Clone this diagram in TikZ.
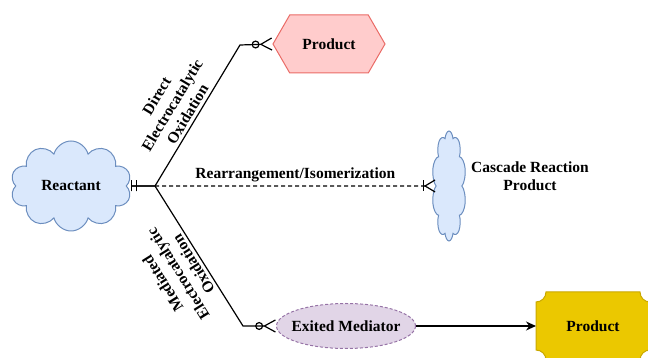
\documentclass[tikz,border=0pt]{standalone}
\usepackage{fontspec}
\setmainfont{Liberation Serif}
\usetikzlibrary{arrows.meta,shapes.symbols,shapes.geometric,backgrounds}

\definecolor{cloudfill}{HTML}{DAE8FC}
\definecolor{cloudline}{HTML}{6C8EBF}
\definecolor{hexfill}{HTML}{FFCCCC}
\definecolor{hexline}{HTML}{EA6B66}
\definecolor{medfill}{HTML}{E1D5E7}
\definecolor{medline}{HTML}{9673A6}
\definecolor{platefill}{HTML}{EBC800}
\definecolor{plateline}{HTML}{C9A800}

\tikzset{
  every node/.style={font=\bfseries\fontsize{15.5}{18}\selectfont},
  blob/.style={cloud, cloud ignores aspect, cloud puffs=10, draw=cloudline, fill=cloudfill, line width=1pt},
  erzeromany/.style={line width=1.2pt, {Bar[width=11pt,sep=4pt]Bar[width=11pt,sep=4pt]}-{Circle[open,length=8pt,width=8pt,sep=0pt]Straight Barb[reversed,length=11pt,width=12pt]}},
  eronemany/.style={line width=1.2pt, dash pattern=on 4pt off 3pt, -{Bar[width=11pt,sep=0pt]Straight Barb[reversed,length=10pt,width=12pt]}},
}

\begin{document}
\begin{tikzpicture}[x=1pt,y=1pt]
\useasboundingbox (0,0) rectangle (648,358);

\node[blob, minimum width=121, minimum height=90] (reactant) at (71,172) {Reactant};
\node[signal, signal to=west and east, signal pointer angle=120, draw=hexline, fill=hexfill, line width=1pt, minimum width=112, minimum height=58] (prodA) at (329,314) {Product};
\node[blob, transform shape, xscale=0.4, minimum width=85, minimum height=110] (cascade) at (449,172) {};
\node[align=center] (cascadetxt) at (530,182) {Cascade Reaction\\Product};
\node[ellipse, draw=medline, fill=medfill, line width=1pt, dash pattern=on 3pt off 2pt, inner sep=0pt, minimum width=139, minimum height=45] (mediator) at (346,32) {\makebox[0pt]{Exited Mediator}};
\node[outer sep=0pt, minimum width=114, minimum height=68] (plate) at (593,32) {Product};

\begin{scope}[on background layer]
\filldraw[fill=platefill, draw=plateline, line width=1pt] ([xshift=10pt]plate.north west) -- ([xshift=-10pt]plate.north east) arc (180:270:10pt)
  -- ([yshift=10pt]plate.south east) arc (90:180:10pt) -- ([xshift=10pt]plate.south west) arc (0:90:10pt)
  -- ([yshift=-10pt]plate.north west) arc (270:360:10pt) -- cycle;
\end{scope}

\coordinate (fork) at (155,172);
\coordinate (bendA) at (240,313);
\coordinate (bendB) at (243,32);

\draw[erzeromany] (reactant.east) -- (fork) -- (bendA) -- (prodA.west);
\draw[erzeromany] (reactant.east) -- (fork) -- (bendB) -- (mediator.west);
\draw[eronemany] (fork) -- node[above] (rearrlbl) {Rearrangement/Isomerization} (cascade.west);
\draw[line width=1.2pt, -{Stealth[length=10pt,width=9pt]}] (mediator) -- (plate);

\node[rotate=59, align=center] (directlbl) at (172,253) {Direct\\Electrocatalytic\\Oxidation};
\node[rotate=122, align=center] (mediatedlbl) at (178,84) {Mediated\\Electrocatalytic\\Oxidation};
\end{tikzpicture}
\end{document}
